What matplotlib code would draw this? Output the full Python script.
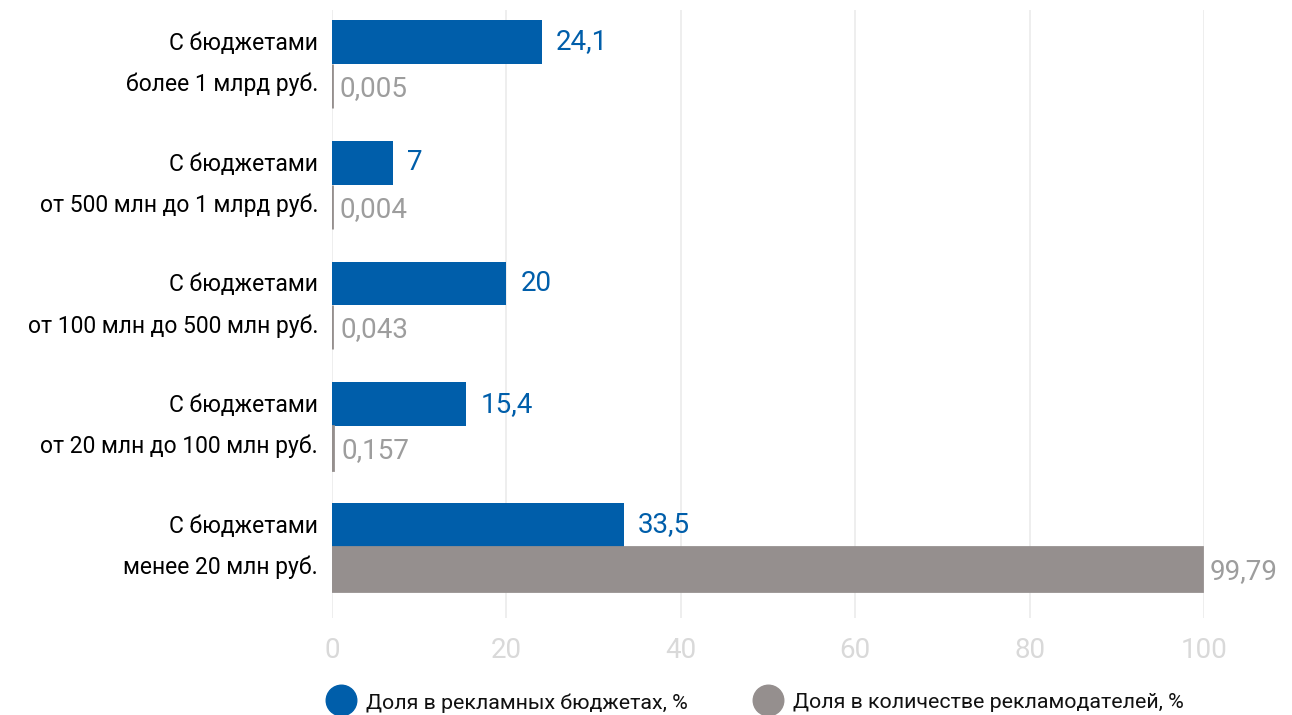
import matplotlib.pyplot as plt
from matplotlib.lines import Line2D
import numpy as np

plt.rcParams['font.family'] = ['Roboto', 'DejaVu Sans']

categories = [
    'С бюджетами\nболее 1 млрд руб.',
    'С бюджетами\nот 500 млн до 1 млрд руб.',
    'С бюджетами\nот 100 млн до 500 млн руб.',
    'С бюджетами\nот 20 млн до 100 млн руб.',
    'С бюджетами\nменее 20 млн руб.',
]
budget_share = [24.1, 7, 20, 15.4, 33.5]
advertiser_share = [0.005, 0.004, 0.043, 0.157, 99.79]
budget_labels = ['24,1', '7', '20', '15,4', '33,5']
advertiser_labels = ['0,005', '0,004', '0,043', '0,157', '99,79']
legend_labels = ['Доля в рекламных бюджетах, %', 'Доля в количестве рекламодателей, %']

blue = '#005eaa'
grey = '#958f8e'

fig = plt.figure(figsize=(12.92, 7.15), dpi=100)
ax = fig.add_axes([332 / 1292, 1 - 618 / 715, (1204 - 332) / 1292, 608 / 715])

y = np.arange(len(categories))
h = 0.364

ax.barh(y - h / 2, budget_share, height=h, color=blue, zorder=3)
ax.barh(y + h / 2, advertiser_share, height=h, color=grey, zorder=3,
        edgecolor=grey, linewidth=2)

for yi, v, lab in zip(y, budget_share, budget_labels):
    ax.text(v + 1.6, yi - h / 2, lab, va='center', ha='left',
            color=blue, fontsize=20)
for yi, v, lab in zip(y, advertiser_share, advertiser_labels):
    ax.text(v + 0.9, yi + h / 2 + 0.02, lab, va='center', ha='left',
            color='#9d9d9d', fontsize=20, clip_on=False)

ax.set_xlim(0, 100)
ax.set_ylim(4 + 0.588, -0.447)
ax.set_xticks([0, 20, 40, 60, 80, 100])
ax.tick_params(axis='x', length=0, labelsize=20, labelcolor='#d9d9d9', pad=14)
ax.set_yticks(y)
ax.set_yticklabels(categories, fontsize=16.5, linespacing=1.95, va='center')
ax.tick_params(axis='y', length=0, pad=10)
ax.grid(axis='x', color='#ebebeb', linewidth=1.2, zorder=0)
for s in ax.spines.values():
    s.set_visible(False)

# legend drawn by hand near the bottom edge
for xc, col, lab in [(341, blue, legend_labels[0]), (768, grey, legend_labels[1])]:
    fig.add_artist(Line2D([xc / 1292], [1 - 700 / 715], marker='o',
                          markersize=22, color=col, linestyle='none',
                          transform=fig.transFigure))
    fig.text((xc + 25) / 1292, 1 - 703 / 715, lab, fontsize=15.4,
             va='center', ha='left', color='#111111')

fig.savefig('out.png', dpi=100)
